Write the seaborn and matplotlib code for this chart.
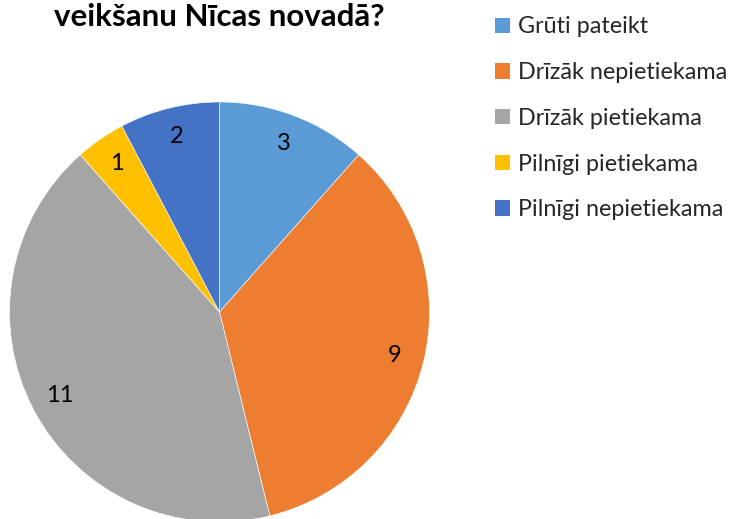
import matplotlib
matplotlib.use("Agg")
import matplotlib.pyplot as plt
import seaborn as sns
from matplotlib.patches import Patch

categories = ["Grūti pateikt", "Drīzāk nepietiekama", "Drīzāk pietiekama",
              "Pilnīgi pietiekama", "Pilnīgi nepietiekama"]
values = [3, 9, 11, 1, 2]
colors_hex = ["#5B9BD5", "#ED7D31", "#A5A5A5", "#FFC000", "#4472C4"]
title_text = "veikšanu Nīcas novadā?"

sns.set_theme(style="white")
plt.rcParams['font.family'] = ['Lato', 'DejaVu Sans']

W, H = 738, 519
fig = plt.figure(figsize=(W / 100, H / 100), dpi=100)
fig.patch.set_facecolor("white")

cx, cy, r = 219.5, 312, 210
ax = fig.add_axes([(cx - r) / W, (H - cy - r) / H, 2 * r / W, 2 * r / H])
palette = sns.color_palette(colors_hex)

wedges, texts = ax.pie(values, labels=[str(v) for v in values], colors=palette,
                       startangle=90, counterclock=False, radius=1,
                       labeldistance=0.86,
                       wedgeprops=dict(edgecolor="white", linewidth=0.4),
                       textprops=dict(fontsize=17, color="black"))
for t in texts:
    t.set_horizontalalignment("center")
    t.set_verticalalignment("center")
ax.set_xlim(-1, 1)
ax.set_ylim(-1, 1)
ax.axis("off")

fig.text(219 / W, (H - 26) / H, title_text, ha="center", va="baseline",
         fontsize=22.5, fontweight="bold", color="black")

handles = [Patch(facecolor=c, edgecolor="none") for c in palette]
fig.legend(handles, categories, loc="upper left",
           bbox_to_anchor=(477 / W, (H + 2) / H), frameon=False,
           fontsize=16.8, handlelength=0.64, handleheight=0.64,
           handletextpad=0.31, labelspacing=1.06, borderpad=0.29)

fig.savefig("out.png", dpi=100, facecolor="white")
